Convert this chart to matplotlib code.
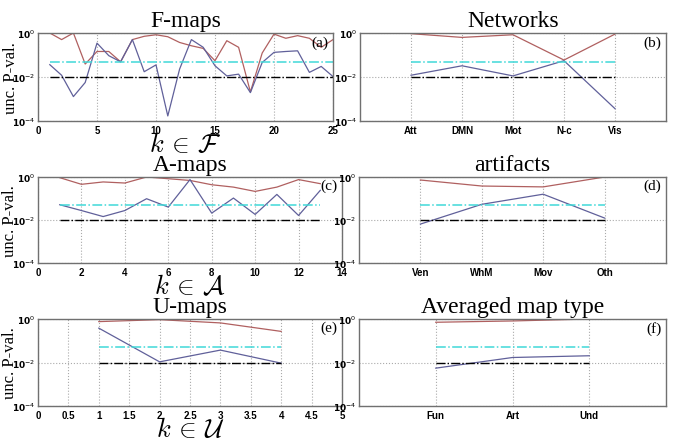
# Uncorrected p-values per map / group, six panels
import numpy as np
import matplotlib.pyplot as plt

# log10 of the uncorrected p-values
F_UPPER = [0, -0.30, 0, -1.41, -0.84, -0.84, -1.31, -0.30, -0.15, -0.08, -0.17, -0.43, -0.58,
           -0.70, -1.26, -0.35, -0.65, -2.68, -0.91, -0.05, -0.24, -0.12, -0.24, -0.65, -0.30]
F_LOWER = [-1.44, -1.92, -2.89, -2.25, -0.46, -1.03, -1.31, -0.30, -1.76, -1.45, -3.77, -1.64, -0.30,
           -0.65, -1.49, -1.95, -1.87, -2.71, -1.34, -0.88, -0.84, -0.81, -1.79, -1.52, -1.98]

NET_LABELS = ["Att", "DMN", "Mot", "N-c", "Vis"]
NET_UPPER = [-0.03, -0.20, -0.08, -1.23, -0.05]
NET_LOWER = [-1.92, -1.49, -1.95, -1.26, -3.44]

A_UPPER = [-0.03, -0.34, -0.23, -0.28, 0, -0.08, -0.16, -0.36, -0.47, -0.67, -0.47, -0.12, -0.31]
A_LOWER = [-1.29, -1.56, -1.84, -1.56, -1.01, -1.40, -0.12, -1.68, -0.98, -1.74, -0.81, -1.79, -0.62]

ART_LABELS = ["Ven", "WhM", "Mov", "Oth"]
ART_UPPER = [-0.14, -0.42, -0.46, 0]
ART_LOWER = [-2.19, -1.27, -0.80, -1.91]

U_UPPER = [-0.12, -0.03, -0.18, -0.57]
U_LOWER = [-0.42, -1.97, -1.43, -2.03]

TYPE_LABELS = ["Fun", "Art", "Und"]
TYPE_UPPER = [-0.15, -0.09, 0]
TYPE_LOWER = [-2.26, -1.77, -1.69]

ALPHA = 0.05
ALPHA_STRICT = 0.01

RED = "#b06060"
BLUE = "#60609a"
CYAN = "#40d8d8"
GRAY = "#707070"


def draw_panel(ax, upper, lower, letter, title, xlim, xticks, xticklabels=None):
    k = np.arange(1, len(upper) + 1)
    ax.plot(k, 10.0 ** np.array(upper), color=RED, lw=0.9)
    ax.plot(k, 10.0 ** np.array(lower), color=BLUE, lw=0.9)
    ax.plot([k[0], k[-1]], [ALPHA, ALPHA], color=CYAN, ls="-.", lw=1.1)
    ax.plot([k[0], k[-1]], [ALPHA_STRICT, ALPHA_STRICT], color="black", ls="-.", lw=1.0)

    ax.set_yscale("log")
    ax.set_ylim(1e-4, 1)
    ax.set_yticks([1e-4, 1e-2, 1])
    ax.set_yticklabels([r"$\mathbf{10}^{-4}$", r"$\mathbf{10}^{-2}$", r"$\mathbf{10}^{0}$"],
                       fontsize=6.5)
    ax.minorticks_off()
    ax.set_xlim(*xlim)
    ax.set_xticks(xticks)
    if xticklabels is not None:
        ax.set_xticklabels(xticklabels)
    for lab in ax.get_xticklabels():
        lab.set_fontsize(7)
        lab.set_fontweight("bold")
        lab.set_family("Liberation Sans")
    ax.tick_params(length=0, pad=3, colors="black")
    ax.tick_params(axis="y", pad=2)
    ax.grid(True, ls=":", color="#aaaaaa", lw=0.8)
    for s in ax.spines.values():
        s.set_color(GRAY)
        s.set_linewidth(1.0)
    ax.text(0.985, 0.9, letter, transform=ax.transAxes, ha="right", va="center",
            fontsize=11, family="Liberation Serif")
    ax.set_title(title, fontsize=17, family="Liberation Serif", pad=5)


fig = plt.figure(figsize=(6.8, 4.39), dpi=100)

ax_a = fig.add_axes([38 / 680, 1 - 122 / 439, 295 / 680, 88 / 439])
ax_b = fig.add_axes([360 / 680, 1 - 122 / 439, 306 / 680, 88 / 439])
ax_c = fig.add_axes([38 / 680, 1 - 264 / 439, 304 / 680, 86 / 439])
ax_d = fig.add_axes([359 / 680, 1 - 264 / 439, 307 / 680, 86 / 439])
ax_e = fig.add_axes([38 / 680, 1 - 407 / 439, 304 / 680, 87 / 439])
ax_f = fig.add_axes([359 / 680, 1 - 407 / 439, 307 / 680, 87 / 439])

draw_panel(ax_a, F_UPPER, F_LOWER, "(a)", "F-maps", (0, 25), np.arange(0, 26, 5))
draw_panel(ax_b, NET_UPPER, NET_LOWER, "(b)", "Networks", (0, 6), np.arange(1, 6), NET_LABELS)
draw_panel(ax_c, A_UPPER, A_LOWER, "(c)", "A-maps", (0, 14), np.arange(0, 15, 2))
draw_panel(ax_d, ART_UPPER, ART_LOWER, "(d)", "artifacts", (0, 5), np.arange(1, 5), ART_LABELS)
draw_panel(ax_e, U_UPPER, U_LOWER, "(e)", "U-maps", (0, 5), np.arange(0, 5.01, 0.5),
           ["0", "0.5", "1", "1.5", "2", "2.5", "3", "3.5", "4", "4.5", "5"])
draw_panel(ax_f, TYPE_UPPER, TYPE_LOWER, "(f)", "Averaged map type", (0, 4), np.arange(1, 4),
           TYPE_LABELS)

for ax, sym in [(ax_a, "F"), (ax_c, "A"), (ax_e, "U")]:
    ax.set_ylabel("unc. P-val.", fontsize=12, family="Liberation Serif")
    ax.yaxis.set_label_coords(-20 / 304, 0.5)
    ax.set_xlabel(r"$k\,\in\,\mathcal{%s}$" % sym, fontsize=19, math_fontfamily="cm", labelpad=-3)

fig.savefig("out.png", dpi=100)
